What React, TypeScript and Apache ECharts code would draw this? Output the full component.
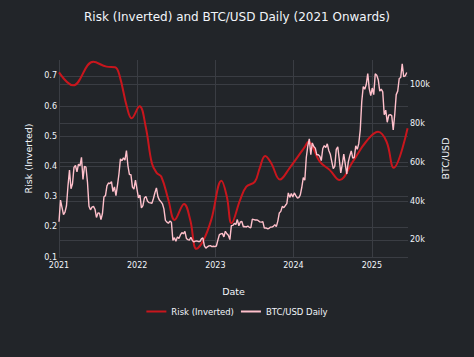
import React, { useEffect, useRef } from "react";
import * as echarts from "echarts";

// Risk (Inverted) — smooth indicator
const riskDates = [
  "2021-01-01", "2021-03-08", "2021-06-10", "2021-08-11", "2021-09-20", "2021-10-12",
  "2021-11-14", "2021-12-06", "2022-01-12", "2022-02-10", "2022-03-11", "2022-04-02",
  "2022-04-24", "2022-05-27", "2022-06-25", "2022-08-08", "2022-09-06", "2022-10-05",
  "2022-11-07", "2022-12-13", "2023-01-30", "2023-02-24", "2023-03-18", "2023-04-27",
  "2023-05-26", "2023-07-05", "2023-07-27", "2023-08-22", "2023-09-20", "2023-10-30",
  "2023-12-13", "2024-02-24", "2024-03-10", "2024-05-03", "2024-06-19", "2024-08-03",
  "2024-10-04", "2024-12-05", "2025-01-30", "2025-03-11", "2025-04-13", "2025-06-17",
];
const riskValues = [
  0.712, 0.669, 0.747, 0.731, 0.729, 0.698,
  0.598, 0.56, 0.6, 0.532, 0.41, 0.379,
  0.366, 0.289, 0.223, 0.276, 0.223, 0.127,
  0.156, 0.223, 0.353, 0.3, 0.212, 0.289,
  0.333, 0.35, 0.394, 0.435, 0.41, 0.357,
  0.394, 0.466, 0.482, 0.416, 0.388, 0.355,
  0.416, 0.482, 0.515, 0.482, 0.396, 0.527,
];

// BTC/USD, weekly samples (thousands USD) starting 2021-01-01
const btcStart = "2021-01-01";
const btc2021 = [
  29.4, 40.5, 36.8, 33.0, 34.3,
  37.6, 47.9, 55.9, 46.3,
  48.9, 57.3, 58.3, 55.0,
  59.0, 58.1, 62.5, 51.1, 57.8,
  57.4, 49.7, 37.3, 35.5,
  36.9, 37.3, 35.8, 31.6,
  33.9, 33.8, 30.5, 33.6, 42.2,
  42.8, 47.8, 49.3, 49.0,
  50.0, 44.9, 47.3, 42.8,
  48.1, 53.9, 61.7, 60.7, 62.2,
  61.0, 66.0, 58.1, 53.6,
  53.6, 47.2, 46.2, 50.8, 46.3,
];
const btc2022 = [
  41.6, 43.1, 36.5, 37.7,
  41.6, 42.4, 40.0, 39.2,
  39.1, 38.8, 41.3, 44.3,
  46.8, 42.3, 40.5, 39.7, 38.6,
  36.0, 30.1, 29.2, 28.6,
  29.7, 29.1, 19.8, 21.2,
  19.3, 21.6, 20.8, 22.6, 23.8,
  23.2, 24.4, 20.8, 20.2,
  19.9, 21.4, 19.7, 19.0, 19.4,
  19.5, 19.2, 19.2, 20.6,
  21.1, 17.0, 15.8, 16.5,
  17.0, 17.1, 16.6, 16.8, 16.6,
];
const btc2023 = [
  16.9, 19.9, 22.7, 23.1,
  23.4, 21.6, 24.5, 23.2,
  22.4, 20.2, 27.4, 27.5, 28.5,
  28.0, 30.5, 27.3, 29.3,
  29.5, 26.8, 26.9, 26.7,
  27.2, 26.5, 26.3, 30.7, 30.5,
  30.3, 30.3, 29.9, 29.3,
  29.2, 29.4, 26.1, 26.2,
  25.8, 25.9, 26.6, 26.6, 27.0,
  27.9, 26.9, 29.7, 33.9,
  34.7, 37.3, 36.6, 37.7,
  38.7, 44.2, 41.9, 43.9, 42.1,
];
const btc2024 = [
  44.2, 42.8, 41.6, 41.8,
  43.2, 47.1, 52.1, 50.7,
  62.4, 68.3, 72.0, 63.8, 69.9,
  68.0, 67.2, 63.8, 63.8,
  63.0, 60.8, 67.0, 68.5, 67.5,
  69.4, 66.0, 64.1, 60.3,
  56.7, 57.9, 66.6, 67.9,
  61.4, 54.5, 58.9, 64.1, 59.0,
  53.9, 60.0, 63.2, 65.8,
  62.1, 62.4, 68.4, 66.6,
  69.5, 76.5, 91.1, 98.9, 97.5,
  99.9, 105.5, 97.8, 94.2,
];
const btc2025 = [
  98.1, 94.7, 105.4, 104.7, 102.4,
  96.5, 97.5, 96.1, 84.4,
  86.7, 80.5, 84.1, 84.4,
  83.9, 76.5, 84.5, 94.7,
  96.5, 103.0, 103.5, 110.5, 103.9,
  104.3, 106.1,
];

const yearTicks = ["2021-01-01", "2022-01-01", "2023-01-01", "2024-01-01", "2025-01-01"];
const riskTicks = [0.1, 0.2, 0.3, 0.4, 0.5, 0.6, 0.7];
const btcTicks = [20000, 40000, 60000, 80000, 100000];

const BG = "#222529";
const GRID = "#3a3d43";
const TXT = "#f2f5fa";
const FONT = "'DejaVu Sans', Verdana, sans-serif";

export default function App() {
  const ref = useRef<HTMLDivElement>(null);

  useEffect(() => {
    document.body.style.margin = "0";
    document.body.style.background = BG;
    if (!ref.current) return;
    const chart = echarts.init(ref.current, null, { renderer: "svg" });

    const startMs = Date.parse(btcStart + "T00:00:00Z");
    const week = 7 * 24 * 3600 * 1000;
    const btcAll = [...btc2021, ...btc2022, ...btc2023, ...btc2024, ...btc2025];
    const btcData = btcAll.map((v, i) => [startMs + i * week, v * 1000]);
    const riskData = riskDates.map((d, i) => [Date.parse(d + "T00:00:00Z"), riskValues[i]]);
    const yearMs = yearTicks.map((d) => Date.parse(d + "T00:00:00Z"));

    chart.setOption({
      animation: false,
      backgroundColor: BG,
      textStyle: { fontFamily: FONT, color: TXT },
      title: {
        text: "Risk (Inverted) and BTC/USD Daily (2021 Onwards)",
        left: "center",
        top: 6,
        textStyle: { fontFamily: FONT, color: TXT, fontSize: 12, fontWeight: "normal" },
      },
      legend: {
        data: ["Risk (Inverted)", "BTC/USD Daily"],
        left: "center",
        top: 302,
        icon: "rect",
        itemWidth: 20,
        itemHeight: 2,
        itemGap: 7,
        textStyle: { fontFamily: FONT, color: TXT, fontSize: 8.5 },
      },
      grid: { left: 59, right: 66, top: 60, bottom: 100, containLabel: false },
      xAxis: {
        type: "value",
        min: Date.parse("2021-01-01T00:00:00Z"),
        max: Date.parse("2025-06-19T00:00:00Z"),
        name: "Date",
        nameLocation: "middle",
        nameGap: 29,
        nameTextStyle: { fontFamily: FONT, color: TXT, fontSize: 9.5 },
        axisLine: { show: false },
        axisTick: { show: false, customValues: yearMs },
        axisLabel: {
          customValues: yearMs,
          color: TXT,
          fontFamily: FONT,
          fontSize: 8,
          margin: 4,
          formatter: (v: number) => String(new Date(v).getUTCFullYear()),
        },
        splitLine: { show: true, lineStyle: { color: GRID, width: 1 } },
      },
      yAxis: [
        {
          type: "value",
          min: 0.1,
          max: 0.753,
          position: "left",
          name: "Risk (Inverted)",
          nameLocation: "middle",
          nameRotate: 90,
          nameGap: 21,
          nameTextStyle: { fontFamily: FONT, color: TXT, fontSize: 9.5 },
          axisLine: { show: false },
          axisTick: { show: false, customValues: riskTicks },
          axisLabel: {
            customValues: riskTicks,
            color: TXT,
            fontFamily: FONT,
            fontSize: 8,
            margin: 2,
            formatter: (v: number) => String(Math.round(v * 10) / 10),
          },
          splitLine: { show: true, lineStyle: { color: GRID, width: 1 } },
        },
        {
          type: "value",
          min: 11260,
          max: 112500,
          position: "right",
          name: "BTC/USD",
          nameLocation: "middle",
          nameRotate: 90,
          nameGap: 24,
          nameTextStyle: { fontFamily: FONT, color: TXT, fontSize: 9.5 },
          axisLine: { show: false },
          axisTick: { show: false, customValues: btcTicks },
          axisLabel: {
            customValues: btcTicks,
            color: TXT,
            fontFamily: FONT,
            fontSize: 8,
            margin: 2,
            formatter: (v: number) => Math.round(v / 1000) + "k",
          },
          splitLine: { show: true, lineStyle: { color: GRID, width: 1 } },
        },
      ],
      series: [
        {
          name: "Risk (Inverted)",
          type: "line",
          yAxisIndex: 0,
          data: riskData,
          smooth: 0.4,
          showSymbol: false,
          symbol: "none",
          lineStyle: { color: "#c8161d", width: 2 },
          itemStyle: { color: "#c8161d" },
        },
        {
          name: "BTC/USD Daily",
          type: "line",
          yAxisIndex: 1,
          data: btcData,
          showSymbol: false,
          symbol: "none",
          lineStyle: { color: "#ffc0cb", width: 1.4 },
          itemStyle: { color: "#ffc0cb" },
        },
      ],
    });

    return () => chart.dispose();
  }, []);

  return <div ref={ref} style={{ width: 474, height: 357 }} />;
}
